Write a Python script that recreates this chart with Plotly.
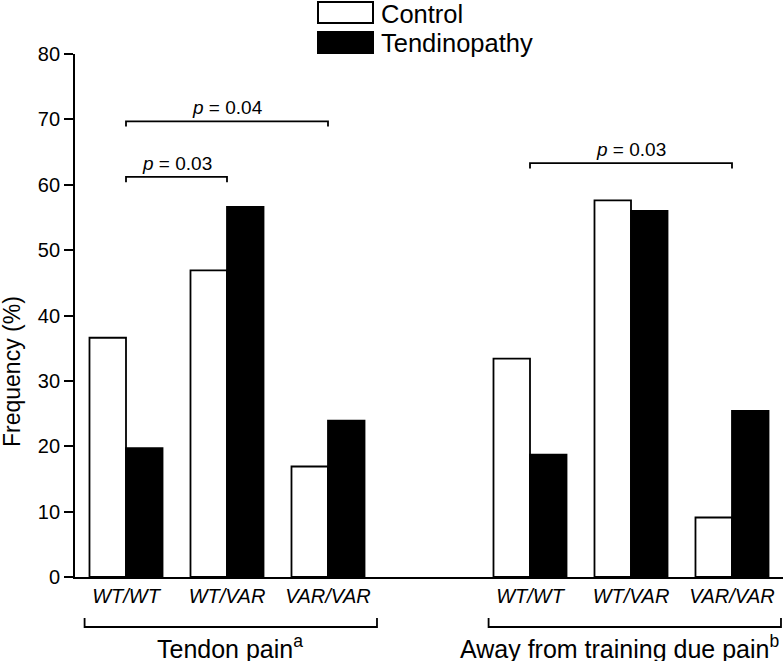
import plotly.graph_objects as go

# ---------------- data ----------------
genotypes = ["WT/WT", "WT/VAR", "VAR/VAR"]
groups = ["Tendon pain", "Away from training due pain"]
group_sup = ["a", "b"]
control_tendon = [36.6, 46.9, 16.9]
tendino_tendon = [19.7, 56.6, 23.9]
control_away = [33.4, 57.6, 9.1]
tendino_away = [18.7, 56.0, 25.4]
y_ticks = [0, 10, 20, 30, 40, 50, 60, 70, 80]
# significance comparisons: (group index, genotype i, genotype j, label)
comparisons = [(0, 0, 2, "0.04"), (0, 0, 1, "0.03"), (1, 0, 2, "0.03")]
comparison_levels = [69.7, 61.2, 63.3]

# ---------------- layout helpers ----------------
W, H = 783, 661
L, R, T, B = 75, 0, 54, 84
PW, PH = W - L - R, H - T - B
FONT = "Arial, Liberation Sans, Helvetica, sans-serif"


def px(x):
    return (x - L) / PW


def py(y):
    return (H - B - y) / PH


# x positions: group 0 at 0,1,2 ; group 1 at 4,5,6
pos = [[0, 1, 2], [4, 5, 6]]
xs = pos[0] + pos[1]
ctrl = control_tendon + control_away
tend = tendino_tendon + tendino_away

fig = go.Figure()
fig.add_trace(go.Bar(x=xs, y=ctrl, name="Control",
                     marker=dict(color="white", line=dict(color="black", width=1.8))))
fig.add_trace(go.Bar(x=xs, y=tend, name="Tendinopathy",
                     marker=dict(color="black", line=dict(color="black", width=1.8))))

shapes = []
annotations = []

# significance brackets
for (g, i, j, lab), lvl in zip(comparisons, comparison_levels):
    x0, x1 = pos[g][i], pos[g][j]
    drop = 0.8
    shapes.append(dict(type="path", xref="x", yref="y",
                       path=f"M {x0} {lvl - drop} L {x0} {lvl} L {x1} {lvl} L {x1} {lvl - drop}",
                       line=dict(color="black", width=1.8)))
    annotations.append(dict(x=(x0 + x1) / 2, y=lvl, xref="x", yref="y",
                            text=f"<i>p</i> = {lab}", showarrow=False,
                            yanchor="bottom", yshift=1,
                            font=dict(family=FONT, size=19, color="black")))

# group brackets below axis
label_px = [(230, "center"), (781, "right")]
for g in range(2):
    a = pos[g][0] - 0.41
    b = pos[g][-1] + 0.485
    ytop, ybot = py(618), py(627)
    shapes.append(dict(type="path", xref="x", yref="paper",
                       path=f"M {a} {ytop} L {a} {ybot} L {b} {ybot} L {b} {ytop}",
                       line=dict(color="black", width=1.8)))
    lx, anc = label_px[g]
    annotations.append(dict(x=px(lx), y=py(647), xref="paper", yref="paper",
                            text=f"{groups[g]}<sup>{group_sup[g]}</sup>", showarrow=False,
                            xanchor=anc, yanchor="middle",
                            font=dict(family=FONT, size=25, color="black")))

# custom legend
legend_items = [("Control", "white", 2, 23), ("Tendinopathy", "black", 32, 53)]
for name, col, y0, y1 in legend_items:
    shapes.append(dict(type="rect", xref="paper", yref="paper",
                       x0=px(318), x1=px(373), y0=py(y1), y1=py(y0),
                       fillcolor=col, line=dict(color="black", width=2)))
    annotations.append(dict(x=px(379), y=py((y0 + y1) / 2 + 1), xref="paper", yref="paper",
                            text=name, showarrow=False, xanchor="left", yanchor="middle",
                            font=dict(family=FONT, size=25.5, color="black")))

# y-axis title
annotations.append(dict(x=px(12), y=py(372), xref="paper", yref="paper",
                        text="Frequency (%)", showarrow=False, textangle=-90,
                        xanchor="center", yanchor="middle",
                        font=dict(family=FONT, size=23, color="black")))

fig.update_layout(
    width=W, height=H,
    margin=dict(l=L, r=R, t=T, b=B),
    plot_bgcolor="white", paper_bgcolor="white",
    barmode="group", bargap=0.277, bargroupgap=0,
    showlegend=False,
    font=dict(family=FONT, color="black"),
    shapes=shapes, annotations=annotations,
    xaxis=dict(range=[-0.505, 6.505], tickvals=xs,
               ticktext=[f"<i>{g}</i>" for g in genotypes] * 2,
               showline=True, linecolor="black", linewidth=1.8,
               ticks="", showgrid=False, zeroline=False,
               tickfont=dict(family=FONT, size=20, color="black")),
    yaxis=dict(range=[0, 80], tickvals=y_ticks,
               showline=True, linecolor="black", linewidth=1.8,
               ticks="outside", ticklen=9, tickwidth=1.8, tickcolor="black",
               showgrid=False, zeroline=False,
               tickfont=dict(family=FONT, size=20, color="black")),
)

fig.write_html("out.html", config={"displayModeBar": False},
               post_script="document.body.style.margin='0';document.body.style.overflow='hidden';")
